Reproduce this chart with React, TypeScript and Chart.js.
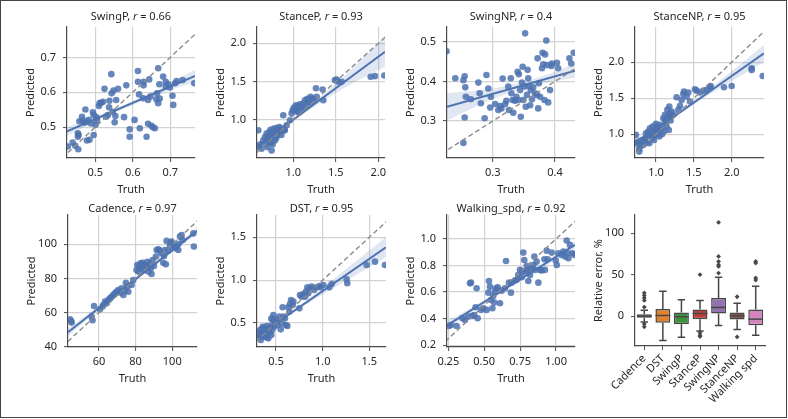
import React, { useEffect, useRef } from 'react';
import { Chart, registerables } from 'chart.js';
Chart.register(...registerables);

const FONT = "'Noto Sans', 'Open Sans', 'DejaVu Sans', sans-serif";
const TEXT = '#262626';
const PT = 'rgba(76,114,176,0.85)';
const LINE = '#4c72b0';
const BAND = 'rgba(76,114,176,0.17)';
const AXIS = '#4a4a4a';
const GRID = '#d2d2d2';
const BOXLINE = '#474747';

Chart.defaults.font.family = FONT;
Chart.defaults.font.size = 11;
Chart.defaults.color = TEXT;

// ---------- SwingP ----------
const swingPTruth = [0.427,0.440,0.447,0.454,0.454,0.455,0.456,0.458,0.465,0.467,0.471,0.474,0.478,0.478,0.485,0.483,0.489,0.494,0.496,0.496,0.501,0.503,0.505,0.510,0.512,0.516,0.521,0.525,0.529,0.534,0.537,0.538,0.543,0.544,0.547,0.549,0.552,0.554,0.556,0.561,0.577,0.583,0.592,0.592,0.605,0.614,0.614,0.617,0.619,0.628,0.629,0.629,0.637,0.641,0.650,0.654,0.659,0.663,0.665,0.668,0.671,0.672,0.681,0.688,0.688,0.699,0.706,0.708,0.713,0.717,0.733,0.764,0.695,0.641,0.647,0.644,0.668];
const swingPPred = [0.445,0.456,0.447,0.483,0.473,0.437,0.478,0.517,0.530,0.519,0.513,0.551,0.516,0.462,0.464,0.521,0.511,0.543,0.535,0.478,0.507,0.529,0.521,0.561,0.569,0.570,0.573,0.610,0.530,0.535,0.557,0.576,0.652,0.597,0.544,0.605,0.514,0.532,0.578,0.610,0.529,0.620,0.494,0.473,0.521,0.661,0.630,0.594,0.497,0.583,0.620,0.630,0.473,0.510,0.504,0.500,0.497,0.580,0.597,0.569,0.623,0.582,0.645,0.630,0.617,0.614,0.590,0.564,0.626,0.632,0.635,0.626,0.623,0.578,0.588,0.637,0.669];
const swingPFitX = [0.425, 0.766];
const swingPFitY = [0.488, 0.647];
const swingPBandX = [0.425, 0.51, 0.595, 0.68, 0.766];
const swingPBandLo = [0.476, 0.521, 0.561, 0.599, 0.629];
const swingPBandHi = [0.500, 0.535, 0.573, 0.615, 0.665];
const swingPXRange = [0.425, 0.766];
const swingPYRange = [0.412, 0.787];
const swingPXTicks = [0.5, 0.6, 0.7];
const swingPYTicks = [0.5, 0.6, 0.7];

// ---------- StanceP ----------
const stancePTruth = [0.588,0.588,0.608,0.627,0.647,0.667,0.678,0.686,0.694,0.706,0.718,0.725,0.733,0.745,0.745,0.757,0.765,0.773,0.784,0.796,0.804,0.812,0.824,0.835,0.843,0.863,0.882,0.894,0.922,0.961,0.980,0.992,1.008,1.020,1.031,1.039,1.059,1.071,1.078,1.098,1.118,1.137,1.149,1.165,1.176,1.188,1.204,1.227,1.267,1.243,1.275,1.345,1.353,1.490,1.510,1.529,1.569,1.910,1.961,2.071,0.70,0.74,0.80,0.86,0.90,1.05,1.12,1.20];
const stancePPred = [0.860,0.640,0.675,0.618,0.728,0.772,0.684,0.816,0.640,0.750,0.838,0.706,0.868,0.596,0.772,0.675,0.816,0.882,0.728,0.825,0.890,0.794,0.860,0.904,0.838,0.882,1.057,0.860,0.925,0.991,1.079,1.123,1.158,1.123,1.189,1.145,1.175,1.101,1.202,1.167,1.211,1.254,1.175,1.272,1.232,1.263,1.298,1.276,1.412,1.254,1.298,1.395,1.254,1.518,1.526,1.496,1.496,1.561,1.570,1.579,0.78,0.70,0.76,0.80,0.86,1.10,1.15,1.22];
const stancePFitX = [0.573, 2.079];
const stancePFitY = [0.649, 1.890];
const stancePBandX = [0.573, 0.95, 1.33, 1.70, 2.079];
const stancePBandLo = [0.614, 0.935, 1.230, 1.476, 1.690];
const stancePBandHi = [0.684, 0.975, 1.310, 1.676, 2.090];
const stancePXRange = [0.573, 2.079];
const stancePYRange = [0.497, 2.214];
const stancePXTicks = [1.0, 1.5, 2.0];
const stancePYTicks = [1.0, 1.5, 2.0];

// ---------- SwingNP ----------
const swingNPTruth = [0.226,0.240,0.253,0.255,0.256,0.255,0.253,0.257,0.265,0.277,0.279,0.281,0.287,0.290,0.293,0.296,0.297,0.304,0.309,0.312,0.314,0.316,0.320,0.322,0.325,0.326,0.329,0.330,0.332,0.333,0.336,0.338,0.340,0.341,0.342,0.344,0.345,0.347,0.348,0.349,0.351,0.352,0.353,0.355,0.356,0.357,0.358,0.360,0.361,0.363,0.365,0.368,0.371,0.372,0.373,0.374,0.376,0.379,0.380,0.381,0.383,0.384,0.386,0.387,0.389,0.392,0.394,0.395,0.403,0.405,0.423,0.426,0.430];
const swingNPPred = [0.476,0.408,0.403,0.413,0.385,0.309,0.245,0.361,0.355,0.397,0.370,0.345,0.307,0.416,0.382,0.334,0.361,0.343,0.328,0.338,0.332,0.407,0.343,0.351,0.387,0.328,0.408,0.370,0.353,0.321,0.351,0.361,0.424,0.353,0.418,0.378,0.311,0.397,0.437,0.353,0.387,0.521,0.336,0.366,0.429,0.408,0.388,0.340,0.378,0.355,0.385,0.370,0.366,0.458,0.332,0.395,0.361,0.433,0.472,0.443,0.353,0.468,0.503,0.441,0.347,0.378,0.439,0.445,0.447,0.433,0.458,0.445,0.472];
const swingNPFitX = [0.2267, 0.432];
const swingNPFitY = [0.336, 0.427];
const swingNPBandX = [0.2267, 0.28, 0.335, 0.385, 0.432];
const swingNPBandLo = [0.301, 0.342, 0.375, 0.396, 0.409];
const swingNPBandHi = [0.371, 0.378, 0.393, 0.416, 0.445];
const swingNPXRange = [0.2267, 0.432];
const swingNPYRange = [0.207, 0.537];
const swingNPXTicks = [0.3, 0.4];
const swingNPYTicks = [0.3, 0.4, 0.5];

// ---------- StanceNP ----------
const stanceNPTruth = [0.736,0.744,0.767,0.780,0.811,0.833,0.855,0.868,0.877,0.899,0.912,0.921,0.943,0.956,0.965,0.974,0.987,1.000,1.009,1.018,1.031,1.044,1.053,1.075,1.097,1.106,1.119,1.132,1.141,1.150,1.163,1.176,1.185,1.194,1.207,1.229,1.273,1.295,1.317,1.339,1.361,1.370,1.405,1.427,1.449,1.515,1.537,1.581,1.626,1.670,1.714,1.722,1.899,2.000,2.264,2.264,2.410,0.80,0.86,0.95,1.02,1.08,1.12,1.17,1.20,0.78,0.90];
const stanceNPPred = [0.991,0.875,0.898,0.759,0.921,0.852,0.944,1.014,0.884,1.037,0.875,1.083,0.968,1.106,1.014,0.921,1.060,1.144,0.991,1.106,1.037,0.968,1.130,1.083,1.222,1.037,1.269,1.162,1.106,1.338,1.245,1.384,1.292,1.190,1.315,1.269,1.514,1.338,1.394,1.477,1.560,1.593,1.523,1.579,1.454,1.625,1.606,1.579,1.606,1.616,1.653,1.671,1.653,1.671,1.917,1.894,1.810,0.84,0.90,0.95,1.08,1.00,1.20,1.06,1.25,0.80,0.98];
const stanceNPFitX = [0.723, 2.427];
const stanceNPFitY = [0.866, 2.125];
const stanceNPBandX = [0.723, 1.15, 1.58, 2.0, 2.427];
const stanceNPBandLo = [0.826, 1.161, 1.468, 1.737, 2.005];
const stanceNPBandHi = [0.906, 1.201, 1.528, 1.877, 2.245];
const stanceNPXRange = [0.723, 2.427];
const stanceNPYRange = [0.67, 2.49];
const stanceNPXTicks = [1.0, 1.5, 2.0];
const stanceNPYTicks = [1.0, 1.5, 2.0];

// ---------- Cadence ----------
const cadenceTruth = [44.2,45.1,56.0,57.3,60.5,62.0,62.4,63.3,64.2,65.1,66.0,66.9,67.8,68.7,69.6,70.5,71.5,72.4,73.3,74.2,74.7,75.5,76.0,77.8,78.7,80.5,80.9,81.5,82.0,82.7,83.3,83.8,84.5,85.1,86.0,86.4,86.9,87.8,88.2,88.7,89.3,90.0,91.1,91.5,92.4,93.3,94.2,95.1,95.5,96.0,96.5,96.9,97.8,98.7,99.1,99.6,100.5,101.5,102.4,103.3,104.2,105.1,105.6,103.3,111.5,111.8,44.8,56.5];
const cadencePred = [56.0,54.1,57.6,63.8,61.9,63.5,64.4,66.4,65.4,67.4,68.3,69.3,70.3,71.3,72.2,73.2,71.7,74.2,70.3,72.8,77.5,75.2,72.2,76.2,79.1,84.9,87.9,84.0,86.9,88.9,85.9,89.2,84.9,87.9,86.9,89.8,84.0,88.9,85.9,82.6,90.8,87.3,92.8,96.7,97.1,96.3,94.7,89.2,93.2,96.7,88.3,102.0,96.3,98.7,101.0,101.6,99.6,97.7,98.7,100.2,104.5,105.5,102.5,96.7,106.4,98.7,55.0,55.5];
const cadenceFitX = [43.1, 113.5];
const cadenceFitY = [48.5, 107.9];
const cadenceBandX = [43.1, 60, 78, 95, 113.5];
const cadenceBandLo = [46.3, 61.6, 77.2, 91.3, 106.0];
const cadenceBandHi = [50.7, 64.0, 78.8, 93.3, 109.8];
const cadenceXRange = [43.1, 113.5];
const cadenceYRange = [39.8, 117.2];
const cadenceXTicks = [60, 80, 100];
const cadenceYTicks = [40, 60, 80, 100];

// ---------- DST ----------
const dstTruth = [0.311,0.321,0.329,0.336,0.346,0.357,0.364,0.371,0.382,0.393,0.400,0.407,0.418,0.425,0.436,0.443,0.450,0.457,0.464,0.471,0.479,0.489,0.500,0.514,0.536,0.550,0.561,0.579,0.571,0.596,0.607,0.621,0.632,0.643,0.650,0.661,0.679,0.686,0.750,0.757,0.775,0.793,0.811,0.821,0.836,0.846,0.864,0.882,0.907,0.936,0.964,0.979,1.007,1.071,1.096,1.257,1.264,1.471,1.561,1.668,0.33,0.35,0.39,0.42,0.45,0.40,0.37];
const dstPred = [0.379,0.340,0.418,0.302,0.399,0.457,0.360,0.438,0.340,0.411,0.465,0.379,0.321,0.438,0.387,0.465,0.551,0.418,0.535,0.593,0.457,0.504,0.543,0.477,0.574,0.426,0.496,0.574,0.683,0.554,0.477,0.465,0.683,0.632,0.722,0.768,0.710,0.749,0.671,0.827,0.807,0.839,0.807,0.866,0.916,0.846,0.905,0.924,0.885,0.916,0.932,0.916,0.944,0.916,0.955,1.010,0.963,1.177,1.216,1.177,0.36,0.43,0.37,0.40,0.36,0.33,0.39];
const dstFitX = [0.296, 1.679];
const dstFitY = [0.342, 1.383];
const dstBandX = [0.296, 0.65, 1.0, 1.34, 1.679];
const dstBandLo = [0.312, 0.593, 0.832, 1.048, 1.263];
const dstBandHi = [0.372, 0.623, 0.912, 1.208, 1.503];
const dstXRange = [0.296, 1.679];
const dstYRange = [0.22, 1.76];
const dstXTicks = [0.5, 1.0, 1.5];
const dstYTicks = [0.5, 1.0, 1.5];

// ---------- Walking_spd ----------
const walkTruth = [0.255,0.269,0.308,0.348,0.366,0.389,0.401,0.408,0.417,0.431,0.440,0.447,0.454,0.478,0.494,0.517,0.529,0.533,0.540,0.547,0.557,0.563,0.570,0.575,0.582,0.594,0.610,0.621,0.645,0.652,0.673,0.686,0.691,0.714,0.726,0.737,0.749,0.761,0.765,0.772,0.779,0.789,0.796,0.803,0.807,0.819,0.830,0.842,0.849,0.854,0.865,0.877,0.888,0.900,0.919,0.923,0.935,0.942,0.970,0.998,1.005,1.016,1.039,1.051,1.063,1.074,1.081,1.086,1.097,1.114,1.128];
const walkPred = [0.345,0.353,0.345,0.403,0.391,0.416,0.666,0.671,0.421,0.428,0.486,0.629,0.403,0.466,0.478,0.466,0.596,0.684,0.641,0.541,0.478,0.571,0.521,0.604,0.629,0.636,0.516,0.611,0.629,0.834,0.671,0.596,0.671,0.687,0.692,0.729,0.767,0.712,0.754,0.897,0.842,0.754,0.797,0.767,0.684,0.729,0.779,0.804,0.867,0.767,0.829,0.671,0.767,0.762,0.847,0.767,0.912,0.847,0.897,0.837,0.804,0.892,0.880,0.905,0.867,0.988,0.892,0.855,0.955,0.892,0.880];
const walkFitX = [0.241, 1.132];
const walkFitY = [0.350, 0.955];
const walkBandX = [0.241, 0.47, 0.69, 0.91, 1.132];
const walkBandLo = [0.320, 0.491, 0.645, 0.789, 0.927];
const walkBandHi = [0.380, 0.521, 0.665, 0.819, 0.983];
const walkXRange = [0.241, 1.132];
const walkYRange = [0.187, 1.18];
const walkXTicks = [0.25, 0.5, 0.75, 1.0];
const walkYTicks = [0.2, 0.4, 0.6, 0.8, 1.0];

// ---------- Relative error box plot ----------
const boxNames = ['Cadence', 'DST', 'SwingP', 'StanceP', 'SwingNP', 'StanceNP', 'Walking spd'];
const boxQ1 = [-2, -8, -9.7, -3.6, 3.2, -4, -11];
const boxMedian = [0, 0.8, -0.8, 3.2, 10.5, 0.4, -3.6];
const boxQ3 = [2.4, 8.5, 4.4, 8, 22, 4.4, 8];
const boxWhiskerLo = [-7, -29.4, -25.4, -18, -11.3, -16, -23];
const boxWhiskerHi = [7.2, 30, 19.8, 19, 47, 15.7, 36];
const outlierCat = ['Cadence','Cadence','Cadence','Cadence','Cadence','Cadence','Cadence','StanceP','StanceP','StanceP','StanceP','SwingNP','SwingNP','SwingNP','SwingNP','SwingNP','SwingNP','StanceNP','StanceNP','Walking spd','Walking spd','Walking spd','Walking spd'];
const outlierVal = [28, 25, 22, 19, 11, -9.6, -12.9, 50, -20, -23, -24.6, 113, 72, 66, 62, 60, 52, 23.4, -25, 66, 64, 46, 43.5];
const boxColors = ['#3a6593', '#e1812c', '#3a923a', '#c03d3e', '#9372b2', '#845b53', '#d684bd'];
const boxYRange = [-36, 122];
const boxYTicks = [0, 50, 100];

const PADL = 62, PADT = 28, PADR = 14, PADB = 46, PADB_BOX = 72;

type Area = [number, number, number, number];

function textPlugin(cfg: { title?: string; r?: string; titleGap?: number; xlabel?: string; ylabel: string }) {
  return {
    id: 'panelText',
    afterDraw(chart: any) {
      const { ctx, chartArea: ca } = chart;
      ctx.save();
      ctx.fillStyle = TEXT;
      ctx.textBaseline = 'middle';
      const f = `11px ${FONT}`;
      const fi = `italic 11px ${FONT}`;
      if (cfg.title) {
        const a = cfg.title + ', ', b = 'r', c = ' = ' + cfg.r;
        ctx.font = f;
        const wa = ctx.measureText(a).width, wc = ctx.measureText(c).width;
        ctx.font = fi;
        const wb = ctx.measureText(b).width;
        let x = (ca.left + ca.right) / 2 - (wa + wb + wc) / 2;
        const y = ca.top - (cfg.titleGap || 8);
        ctx.textAlign = 'left';
        ctx.font = f; ctx.fillText(a, x, y); x += wa;
        ctx.font = fi; ctx.fillText(b, x, y); x += wb;
        ctx.font = f; ctx.fillText(c, x, y);
      }
      ctx.font = f;
      ctx.textAlign = 'center';
      if (cfg.xlabel) ctx.fillText(cfg.xlabel, (ca.left + ca.right) / 2, ca.bottom + 32);
      ctx.translate(ca.left - 36, (ca.top + ca.bottom) / 2);
      ctx.rotate(-Math.PI / 2);
      ctx.fillText(cfg.ylabel, 0, 0);
      ctx.restore();
    },
  };
}

function linAxis(range: number[], ticks: number[], dec: number, axis: 'x' | 'y', grid: boolean, pad: number) {
  return {
    type: 'linear',
    min: range[0],
    max: range[1],
    afterBuildTicks: (s: any) => { s.ticks = ticks.map((v) => ({ value: v })); },
    afterFit: (s: any) => {
      if (axis === 'x') s.height = pad; else s.width = pad;
      s.paddingLeft = 0; s.paddingRight = 0; s.paddingTop = 0; s.paddingBottom = 0;
    },
    ticks: {
      callback: (v: any) => Number(v).toFixed(dec),
      font: { family: FONT, size: 11 },
      color: TEXT,
      padding: axis === 'x' ? 4 : 7,
      maxRotation: 0, minRotation: 0, autoSkip: false,
    },
    grid: { display: true, drawOnChartArea: grid, color: GRID, lineWidth: 1.2, drawTicks: true, tickLength: 4, tickColor: AXIS, tickWidth: 1 },
    border: { display: true, color: AXIS, width: 1.2 },
  };
}

function pts(xs: number[], ys: number[]) {
  const n = Math.min(xs.length, ys.length);
  const out: { x: number; y: number }[] = [];
  for (let i = 0; i < n; i++) out.push({ x: xs[i], y: ys[i] });
  return out;
}

type ScatterCfg = {
  title: string; r: string; truth: number[]; pred: number[];
  fitX: number[]; fitY: number[]; bandX: number[]; bandLo: number[]; bandHi: number[];
  xRange: number[]; yRange: number[]; xTicks: number[]; yTicks: number[]; xDec: number; yDec: number;
  area: Area; titleGap: number;
};

function ScatterPanel({ cfg }: { cfg: ScatterCfg }) {
  const ref = useRef<HTMLCanvasElement>(null);
  const [L, T, R, B] = cfg.area;
  const width = R - L + PADL + PADR;
  const height = B - T + PADT + PADB;
  useEffect(() => {
    const lo = Math.min(cfg.xRange[0], cfg.yRange[0]);
    const hi = Math.max(cfg.xRange[1], cfg.yRange[1]);
    const chart = new Chart(ref.current as HTMLCanvasElement, {
      type: 'scatter',
      data: {
        datasets: [
          { type: 'line', data: pts(cfg.bandX, cfg.bandHi), borderWidth: 0, pointRadius: 0, fill: '+1', backgroundColor: BAND, tension: 0.35, order: 4, clip: 0 } as any,
          { type: 'line', data: pts(cfg.bandX, cfg.bandLo), borderWidth: 0, pointRadius: 0, fill: false, tension: 0.35, order: 4, clip: 0 } as any,
          { type: 'scatter', data: pts(cfg.truth, cfg.pred), pointRadius: 3.3, backgroundColor: PT, borderWidth: 0, order: 3, clip: 0 } as any,
          { type: 'line', data: pts(cfg.fitX, cfg.fitY), borderColor: LINE, borderWidth: 2, pointRadius: 0, fill: false, order: 2, clip: 0 } as any,
          { type: 'line', data: [{ x: lo, y: lo }, { x: hi, y: hi }], borderColor: '#8a8a8a', borderWidth: 1.4, borderDash: [5, 3], pointRadius: 0, fill: false, order: 1, clip: 0 } as any,
        ],
      },
      options: {
        responsive: false,
        devicePixelRatio: 1,
        animation: false,
        events: [],
        layout: { padding: { top: PADT, right: PADR, left: 0, bottom: 0 } },
        plugins: { legend: { display: false }, tooltip: { enabled: false }, title: { display: false } },
        scales: {
          x: linAxis(cfg.xRange, cfg.xTicks, cfg.xDec, 'x', true, PADB) as any,
          y: linAxis(cfg.yRange, cfg.yTicks, cfg.yDec, 'y', true, PADL) as any,
        },
      },
      plugins: [textPlugin({ title: cfg.title, r: cfg.r, titleGap: cfg.titleGap, xlabel: 'Truth', ylabel: 'Predicted' })],
    });
    return () => chart.destroy();
  }, []);
  return (
    <canvas ref={ref} width={width} height={height}
      style={{ position: 'absolute', left: L - PADL, top: T - PADT, width, height }} />
  );
}

const boxPlugin = {
  id: 'boxParts',
  beforeDatasetsDraw(chart: any) {
    const { ctx } = chart;
    const y = chart.scales.y;
    const meta = chart.getDatasetMeta(0);
    ctx.save();
    ctx.strokeStyle = BOXLINE;
    ctx.lineWidth = 1.5;
    meta.data.forEach((bar: any, i: number) => {
      const x = bar.x;
      const cap = bar.width / 4;
      ctx.beginPath();
      ctx.moveTo(x, y.getPixelForValue(boxQ3[i]));
      ctx.lineTo(x, y.getPixelForValue(boxWhiskerHi[i]));
      ctx.moveTo(x - cap, y.getPixelForValue(boxWhiskerHi[i]));
      ctx.lineTo(x + cap, y.getPixelForValue(boxWhiskerHi[i]));
      ctx.moveTo(x, y.getPixelForValue(boxQ1[i]));
      ctx.lineTo(x, y.getPixelForValue(boxWhiskerLo[i]));
      ctx.moveTo(x - cap, y.getPixelForValue(boxWhiskerLo[i]));
      ctx.lineTo(x + cap, y.getPixelForValue(boxWhiskerLo[i]));
      ctx.stroke();
    });
    ctx.restore();
  },
  afterDatasetsDraw(chart: any) {
    const { ctx } = chart;
    const y = chart.scales.y;
    const meta = chart.getDatasetMeta(0);
    ctx.save();
    ctx.strokeStyle = BOXLINE;
    ctx.lineWidth = 1.5;
    meta.data.forEach((bar: any, i: number) => {
      const half = bar.width / 2;
      const py = y.getPixelForValue(boxMedian[i]);
      ctx.beginPath();
      ctx.moveTo(bar.x - half, py);
      ctx.lineTo(bar.x + half, py);
      ctx.stroke();
    });
    ctx.restore();
  },
};

function BoxPanel({ area }: { area: Area }) {
  const ref = useRef<HTMLCanvasElement>(null);
  const [L, T, R, B] = area;
  const width = R - L + PADL + PADR;
  const height = B - T + PADT + PADB_BOX;
  useEffect(() => {
    const chart = new Chart(ref.current as HTMLCanvasElement, {
      type: 'bar',
      data: {
        labels: boxNames,
        datasets: [
          { type: 'bar', data: boxQ1.map((q, i) => [q, boxQ3[i]]), backgroundColor: boxColors, borderColor: BOXLINE, borderWidth: 1.5, borderSkipped: false, barPercentage: 0.8, categoryPercentage: 1, order: 2 } as any,
          { type: 'line', data: outlierCat.map((c, i) => ({ x: c, y: outlierVal[i] })), showLine: false, pointStyle: 'rectRot', pointRadius: 2.4, backgroundColor: BOXLINE, borderWidth: 0, order: 1 } as any,
        ],
      },
      options: {
        responsive: false,
        devicePixelRatio: 1,
        animation: false,
        events: [],
        layout: { padding: { top: PADT, right: PADR, left: 0, bottom: 0 } },
        plugins: { legend: { display: false }, tooltip: { enabled: false }, title: { display: false } },
        scales: {
          x: {
            type: 'category',
            offset: true,
            afterFit: (s: any) => { s.height = PADB_BOX; s.paddingLeft = 0; s.paddingRight = 0; s.paddingTop = 0; s.paddingBottom = 0; },
            ticks: { minRotation: 45, maxRotation: 45, autoSkip: false, font: { family: FONT, size: 11 }, color: TEXT, padding: 2 },
            grid: { offset: false, drawOnChartArea: false, drawTicks: true, tickLength: 4, tickColor: AXIS, tickWidth: 1 },
            border: { display: true, color: AXIS, width: 1.2 },
          } as any,
          y: linAxis(boxYRange, boxYTicks, 0, 'y', false, PADL) as any,
        },
      },
      plugins: [boxPlugin, textPlugin({ ylabel: 'Relative error, %' })],
    });
    return () => chart.destroy();
  }, []);
  return (
    <canvas ref={ref} width={width} height={height}
      style={{ position: 'absolute', left: L - PADL, top: T - PADT, width, height }} />
  );
}

const panels: ScatterCfg[] = [
  { title: 'SwingP', r: '0.66', truth: swingPTruth, pred: swingPPred, fitX: swingPFitX, fitY: swingPFitY, bandX: swingPBandX, bandLo: swingPBandLo, bandHi: swingPBandHi, xRange: swingPXRange, yRange: swingPYRange, xTicks: swingPXTicks, yTicks: swingPYTicks, xDec: 1, yDec: 1, area: [67, 27, 195, 158], titleGap: 10 },
  { title: 'StanceP', r: '0.93', truth: stancePTruth, pred: stancePPred, fitX: stancePFitX, fitY: stancePFitY, bandX: stancePBandX, bandLo: stancePBandLo, bandHi: stancePBandHi, xRange: stancePXRange, yRange: stancePYRange, xTicks: stancePXTicks, yTicks: stancePYTicks, xDec: 1, yDec: 1, area: [257, 27, 385, 158], titleGap: 10 },
  { title: 'SwingNP', r: '0.4', truth: swingNPTruth, pred: swingNPPred, fitX: swingNPFitX, fitY: swingNPFitY, bandX: swingNPBandX, bandLo: swingNPBandLo, bandHi: swingNPBandHi, xRange: swingNPXRange, yRange: swingNPYRange, xTicks: swingNPXTicks, yTicks: swingNPYTicks, xDec: 1, yDec: 1, area: [447, 27, 575, 158], titleGap: 10 },
  { title: 'StanceNP', r: '0.95', truth: stanceNPTruth, pred: stanceNPPred, fitX: stanceNPFitX, fitY: stanceNPFitY, bandX: stanceNPBandX, bandLo: stanceNPBandLo, bandHi: stanceNPBandHi, xRange: stanceNPXRange, yRange: stanceNPYRange, xTicks: stanceNPXTicks, yTicks: stanceNPYTicks, xDec: 1, yDec: 1, area: [635, 27, 764, 158], titleGap: 10 },
  { title: 'Cadence', r: '0.97', truth: cadenceTruth, pred: cadencePred, fitX: cadenceFitX, fitY: cadenceFitY, bandX: cadenceBandX, bandLo: cadenceBandLo, bandHi: cadenceBandHi, xRange: cadenceXRange, yRange: cadenceYRange, xTicks: cadenceXTicks, yTicks: cadenceYTicks, xDec: 0, yDec: 0, area: [68, 215, 197, 347], titleGap: 6 },
  { title: 'DST', r: '0.95', truth: dstTruth, pred: dstPred, fitX: dstFitX, fitY: dstFitY, bandX: dstBandX, bandLo: dstBandLo, bandHi: dstBandHi, xRange: dstXRange, yRange: dstYRange, xTicks: dstXTicks, yTicks: dstYTicks, xDec: 1, yDec: 1, area: [257, 215, 386, 347], titleGap: 6 },
  { title: 'Walking_spd', r: '0.92', truth: walkTruth, pred: walkPred, fitX: walkFitX, fitY: walkFitY, bandX: walkBandX, bandLo: walkBandLo, bandHi: walkBandHi, xRange: walkXRange, yRange: walkYRange, xTicks: walkXTicks, yTicks: walkYTicks, xDec: 2, yDec: 1, area: [447, 215, 575, 347], titleGap: 6 },
];

export default function App() {
  return (
    <div style={{ position: 'absolute', left: 0, top: 0, width: 788, height: 419, background: '#fff', overflow: 'hidden' }}>
      {panels.map((p) => <ScatterPanel key={p.title} cfg={p} />)}
      <BoxPanel area={[635, 215, 765, 346]} />
      <div style={{ position: 'absolute', left: 0, top: 0, width: 787, height: 418, border: '1.5px solid #444', boxSizing: 'border-box', pointerEvents: 'none' }} />
    </div>
  );
}
